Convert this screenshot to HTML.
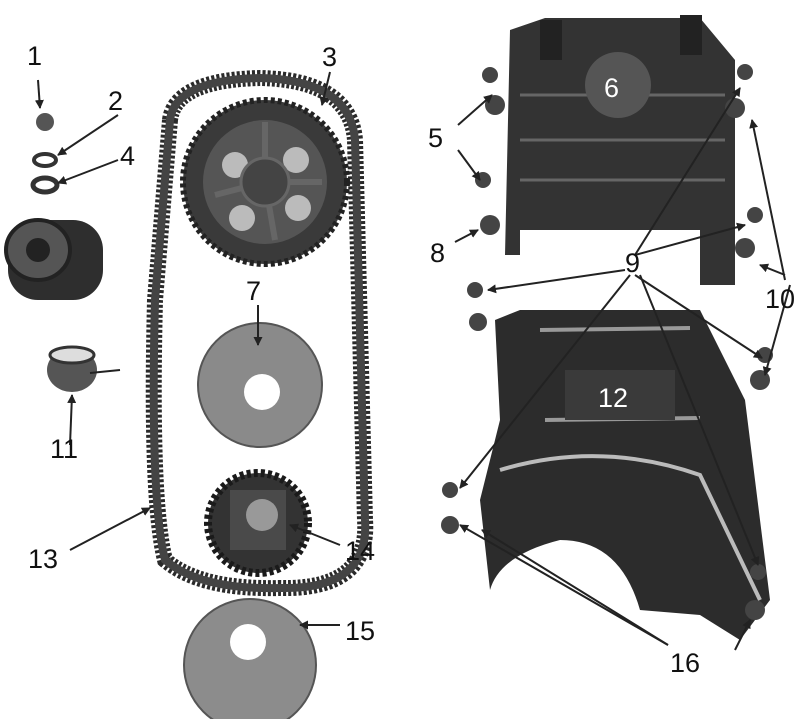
<!DOCTYPE html>
<html><head><meta charset="utf-8"><style>
html,body{margin:0;padding:0;background:#fff;}
svg{display:block}
text{font-family:"Liberation Sans",sans-serif;font-size:27px;fill:#111}
</style></head><body>
<svg width="800" height="719" viewBox="0 0 800 719" xmlns="http://www.w3.org/2000/svg">
<defs>
<marker id="a" markerWidth="9" markerHeight="9" refX="8" refY="4.5" orient="auto" markerUnits="userSpaceOnUse"><path d="M0,0 L9,4.5 L0,9z" fill="#222"/></marker>
</defs>
<rect width="800" height="719" fill="#fff"/>
<path d="M170,120 Q175,80 260,78 Q350,80 355,140 L365,520 Q370,590 280,588 Q200,590 165,560 Q150,500 155,300 Z" fill="none" stroke="#2a2a2a" stroke-width="16" stroke-dasharray="3 2"/>
<path d="M170,120 Q175,80 260,78 Q350,80 355,140 L365,520 Q370,590 280,588 Q200,590 165,560 Q150,500 155,300 Z" fill="none" stroke="#444" stroke-width="8"/>
<circle cx="265" cy="182" r="82" fill="#3a3a3a" stroke="#222" stroke-width="6" stroke-dasharray="4 3"/>
<circle cx="265" cy="182" r="62" fill="#555"/>
<g fill="#bbb"><circle cx="235" cy="165" r="13"/><circle cx="296" cy="160" r="13"/>
<circle cx="298" cy="208" r="13"/><circle cx="242" cy="218" r="13"/></g>
<g stroke="#666" stroke-width="6"><line x1="265" y1="182" x2="265" y2="122"/><line x1="265" y1="182" x2="322" y2="182"/><line x1="265" y1="182" x2="215" y2="195"/><line x1="265" y1="182" x2="275" y2="240"/></g>
<circle cx="265" cy="182" r="24" fill="#444" stroke="#666" stroke-width="3"/>
<circle cx="260" cy="385" r="62" fill="#8a8a8a" stroke="#555" stroke-width="2"/>
<circle cx="262" cy="392" r="18" fill="#fff"/>
<circle cx="258" cy="523" r="50" fill="#333" stroke="#1a1a1a" stroke-width="8" stroke-dasharray="4 3"/>
<rect x="230" y="490" width="56" height="60" fill="#4a4a4a"/>
<circle cx="262" cy="515" r="16" fill="#999"/>
<circle cx="250" cy="665" r="66" fill="#8c8c8c" stroke="#555" stroke-width="2"/>
<circle cx="248" cy="642" r="18" fill="#fff"/>
<circle cx="45" cy="122" r="9" fill="#555"/>
<ellipse cx="45" cy="160" rx="11" ry="6" fill="none" stroke="#333" stroke-width="4"/>
<ellipse cx="45" cy="185" rx="12" ry="7" fill="none" stroke="#333" stroke-width="5"/>
<rect x="8" y="220" width="95" height="80" rx="30" fill="#2e2e2e"/>
<ellipse cx="38" cy="250" rx="32" ry="30" fill="#555" stroke="#222" stroke-width="4"/>
<circle cx="38" cy="250" r="12" fill="#222"/>
<ellipse cx="72" cy="370" rx="25" ry="22" fill="#555"/><ellipse cx="72" cy="355" rx="22" ry="8" fill="#ddd" stroke="#333" stroke-width="3"/>
<path d="M510,30 L545,18 L700,18 L735,60 L735,285 L700,285 L700,230 L520,230 L520,255 L505,255 Z" fill="#333"/>
<path d="M520,95 L725,95 M520,140 L725,140 M520,180 L725,180" stroke="#666" stroke-width="3"/>
<circle cx="618" cy="85" r="33" fill="#555"/>
<rect x="540" y="20" width="22" height="40" fill="#222"/><rect x="680" y="15" width="22" height="40" fill="#222"/>
<path d="M495,320 L520,310 L700,310 L745,400 L770,600 L740,640 L700,615 L640,610 Q620,540 560,540 Q500,555 490,590 L480,500 L500,420 Z" fill="#2c2c2c"/>
<path d="M500,470 Q600,440 700,475 L760,600" fill="none" stroke="#bbb" stroke-width="4"/>
<path d="M540,330 L690,328 M545,420 L700,418" stroke="#999" stroke-width="4"/>
<rect x="565" y="370" width="110" height="50" fill="#3a3a3a"/>
<g fill="#444">
<circle cx="490" cy="75" r="8"/><circle cx="495" cy="105" r="10"/><circle cx="483" cy="180" r="8"/><circle cx="490" cy="225" r="10"/>
<circle cx="745" cy="72" r="8"/><circle cx="735" cy="108" r="10"/><circle cx="755" cy="215" r="8"/><circle cx="745" cy="248" r="10"/>
<circle cx="475" cy="290" r="8"/><circle cx="478" cy="322" r="9"/><circle cx="765" cy="355" r="8"/><circle cx="760" cy="380" r="10"/>
<circle cx="450" cy="490" r="8"/><circle cx="450" cy="525" r="9"/><circle cx="758" cy="572" r="8"/><circle cx="755" cy="610" r="10"/>
</g>
<g stroke="#222" stroke-width="2" fill="none" marker-end="url(#a)">
<line x1="38" y1="80" x2="40" y2="108"/>
<line x1="118" y1="115" x2="58" y2="155"/>
<line x1="118" y1="160" x2="58" y2="183"/>
<line x1="330" y1="72" x2="322" y2="105"/>
<line x1="258" y1="305" x2="258" y2="345"/>
<line x1="458" y1="125" x2="492" y2="95"/>
<line x1="458" y1="150" x2="480" y2="180"/>
<line x1="455" y1="242" x2="478" y2="230"/>
<line x1="635" y1="255" x2="740" y2="88"/>
<line x1="635" y1="255" x2="745" y2="225"/>
<line x1="625" y1="270" x2="488" y2="290"/>
<line x1="635" y1="275" x2="762" y2="358"/>
<line x1="630" y1="275" x2="460" y2="488"/>
<line x1="640" y1="275" x2="758" y2="565"/>
<line x1="785" y1="280" x2="752" y2="120"/>
<line x1="790" y1="285" x2="765" y2="375"/>
<line x1="785" y1="275" x2="760" y2="265"/>
<line x1="70" y1="445" x2="72" y2="395"/>
<line x1="70" y1="550" x2="150" y2="508"/>
<line x1="340" y1="545" x2="290" y2="525"/>
<line x1="340" y1="625" x2="300" y2="625"/>
<line x1="668" y1="645" x2="460" y2="525"/>
<line x1="668" y1="645" x2="482" y2="530"/>
<line x1="735" y1="650" x2="750" y2="620"/>
</g>
<line x1="90" y1="373" x2="120" y2="370" stroke="#222" stroke-width="2"/>
<text x="27" y="65">1</text><text x="108" y="110">2</text><text x="322" y="66">3</text>
<text x="120" y="165">4</text><text x="428" y="147">5</text><text x="246" y="300">7</text>
<text x="430" y="262">8</text><text x="625" y="272">9</text><text x="765" y="308">10</text>
<text x="50" y="458">11</text><text x="28" y="568">13</text><text x="345" y="560">14</text>
<text x="345" y="640">15</text><text x="670" y="672">16</text>
<text x="604" y="97" style="fill:#fff">6</text><text x="598" y="407" style="fill:#fff">12</text>
</svg>
</body></html>
